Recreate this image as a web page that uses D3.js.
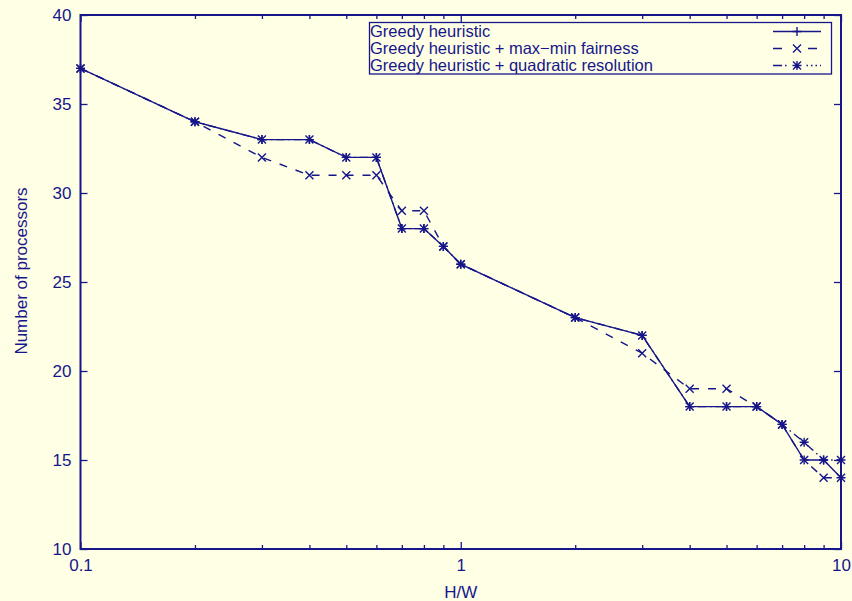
<!DOCTYPE html>
<html><head><meta charset="utf-8">
<script src="https://cdn.jsdelivr.net/npm/d3@7"></script>
<style>
html,body{margin:0;padding:0;background:#ffffe6;}
svg{display:block;}
text{font-family:"Liberation Sans",Arial,Helvetica,sans-serif;fill:#16168a;}
</style></head>
<body>
<svg id="chart" width="852" height="601"></svg>
<script>
const hw = [0.1,0.2,0.3,0.4,0.5,0.6,0.7,0.8,0.9,1,2,3,4,5,6,7,8,9,10];
const greedy    = [37,34,33,33,32,32,28,28,27,26,23,22,18,18,18,17,15,15,14];
const maxmin    = [37,34,32,31,31,31,29,29,27,26,23,21,19,19,18,17,15,14,14];
const quadratic = [37,34,33,33,32,32,28,28,27,26,23,22,18,18,18,17,16,15,15];
const seriesNames = ["Greedy heuristic","Greedy heuristic + max\u2212min fairness","Greedy heuristic + quadratic resolution"];
const xMajor = [0.1,1,10];
const xMinor = [0.2,0.3,0.4,0.5,0.6,0.7,0.8,0.9,2,3,4,5,6,7,8,9];
const yTicks = [10,15,20,25,30,35,40];

const C = "#16168a";
const FS = "17px";
const svg = d3.select("#chart");
const L = 80.5, R = 841, T = 15, B = 549;
const x = d3.scaleLog().domain([0.1,10]).range([L,R]);
const y = d3.scaleLinear().domain([10,40]).range([B,T]);

svg.append("rect").attr("width",852).attr("height",601).attr("fill","#ffffe6");

function styleAxis(g){ g.select(".domain").remove(); g.selectAll("line").attr("stroke",C).attr("stroke-width",1.3); g.selectAll("text").attr("fill",C).style("font-size",FS).style("font-family","Liberation Sans, Arial, sans-serif"); }
svg.append("g").attr("transform",`translate(${L},0)`)
  .call(d3.axisLeft(y).tickValues(yTicks).tickFormat(d3.format("d")).tickSizeInner(-7).tickSizeOuter(0).tickPadding(9))
  .call(styleAxis);
svg.append("g").attr("transform",`translate(${R},0)`)
  .call(d3.axisRight(y).tickValues(yTicks).tickFormat("").tickSizeInner(-7).tickSizeOuter(0))
  .call(styleAxis);
svg.append("g").attr("transform",`translate(0,${B})`)
  .call(d3.axisBottom(x).tickValues(xMajor).tickFormat(d=>d3.format("")(d)).tickSizeInner(-7).tickSizeOuter(0).tickPadding(10))
  .call(styleAxis);
svg.append("g").attr("transform",`translate(0,${B})`)
  .call(d3.axisBottom(x).tickValues(xMinor).tickFormat("").tickSizeInner(-4).tickSizeOuter(0))
  .call(styleAxis);
svg.append("g").attr("transform",`translate(0,${T})`)
  .call(d3.axisTop(x).tickValues(xMajor).tickFormat("").tickSizeInner(-7).tickSizeOuter(0))
  .call(styleAxis);
svg.append("g").attr("transform",`translate(0,${T})`)
  .call(d3.axisTop(x).tickValues(xMinor).tickFormat("").tickSizeInner(-4).tickSizeOuter(0))
  .call(styleAxis);

svg.append("rect").attr("x",L).attr("y",T).attr("width",R-L).attr("height",B-T)
  .attr("fill","none").attr("stroke",C).attr("stroke-width",2);

svg.append("text").attr("x",(L+R)/2).attr("y",598).attr("text-anchor","middle")
  .style("font-size",FS).text("H/W");
svg.append("text").attr("transform",`translate(27,${(T+B)/2 - 11}) rotate(-90)`).attr("text-anchor","middle")
  .style("font-size",FS).text("Number of processors");

const plus = "M-4.5,0H4.5M0,-4.5V4.5";
const cross = "M-4,-4L4,4M-4,4L4,-4";
const star = plus + cross;
const series = [
  {vals:greedy, dash:null, mark:plus},
  {vals:maxmin, dash:"8,9", mark:cross},
  {vals:quadratic, dash:"8,4,1.5,4", mark:star}
];
const line = d3.line().x(d=>x(d[0])).y(d=>y(d[1]));
series.forEach(s=>{
  const pts = hw.map((h,i)=>[h,s.vals[i]]);
  svg.append("path").datum(pts).attr("d",line).attr("fill","none").attr("stroke",C)
    .attr("stroke-width",1.4).attr("stroke-dasharray",s.dash);
  svg.append("g").selectAll("path").data(pts).join("path")
    .attr("transform",d=>`translate(${x(d[0])},${y(d[1])})`)
    .attr("d",s.mark).attr("stroke",C).attr("stroke-width",1.4).attr("fill","none");
});

const lg = svg.append("g");
lg.append("rect").attr("x",369.5).attr("y",22.5).attr("width",462).attr("height",51.5)
  .attr("fill","none").attr("stroke",C).attr("stroke-width",1.3);
const legDash = [null,"9,26,9,26","9,3,1.5,20,1.5,3,1.5,3,1.5,3"];
seriesNames.forEach((n,i)=>{
  const yy = 31.5 + i*17;
  lg.append("text").attr("x",370).attr("y",yy+5.3).style("font-size","16.5px").text(n);
  lg.append("line").attr("x1",773).attr("x2",821).attr("y1",yy).attr("y2",yy)
    .attr("stroke",C).attr("stroke-width",1.4).attr("stroke-dasharray",legDash[i]);
  lg.append("path").attr("transform",`translate(797,${yy})`).attr("d",series[i].mark)
    .attr("stroke",C).attr("stroke-width",1.4).attr("fill","none");
});
</script>
</body></html>
